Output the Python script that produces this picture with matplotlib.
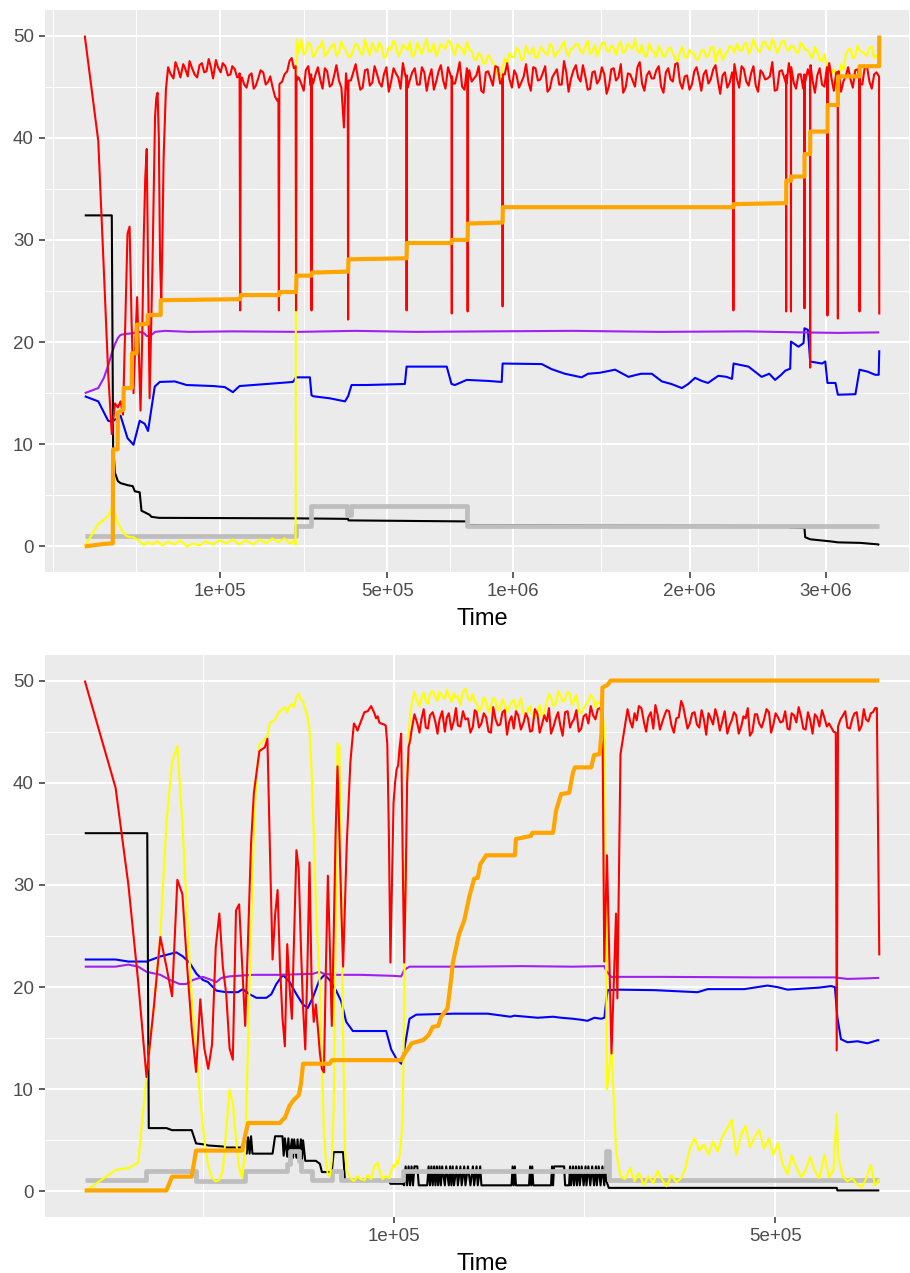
import numpy as np
import matplotlib
matplotlib.use("Agg")
import matplotlib.pyplot as plt
from matplotlib.ticker import FixedLocator

plt.rcParams['font.family'] = ['Liberation Sans', 'DejaVu Sans']

# ---------------- data: Time in thousands ----------------
# ---- top panel ----
top_grid_k = [38, 43, 48, 53, 58, 63, 69, 75, 81, 87, 94, 101, 108, 116, 123, 131, 139, 148, 156, 165,
              174, 184, 193, 203, 213, 224, 234, 245, 256, 267, 279, 291, 303, 315, 328, 340, 353, 367, 380, 394,
              408, 422, 437, 452, 467, 482, 497, 513, 529, 545, 562, 578, 595, 613, 630, 648, 666, 684, 702, 721,
              740, 759, 778, 798, 818, 838, 859, 879, 900, 921, 943, 964, 986, 1008, 1030, 1053, 1076, 1099, 1122, 1146,
              1170, 1194, 1218, 1243, 1267, 1292, 1318, 1343, 1369, 1395, 1421, 1448, 1475, 1502, 1529, 1556, 1584, 1612, 1640, 1669,
              1697, 1726, 1756, 1785, 1815, 1845, 1875, 1905, 1936, 1967, 1998, 2030, 2061, 2093, 2125, 2158, 2190, 2223, 2256, 2290,
              2323, 2357, 2391, 2426, 2460, 2495, 2530, 2565, 2601, 2637, 2673, 2709, 2746, 2783, 2820, 2857, 2894, 2932, 2970, 3009,
              3047, 3086, 3125, 3164, 3204, 3243, 3283, 3323, 3364, 3405, 3446]
top_mid_k = [40, 45, 50, 55, 60, 66, 72, 78, 84, 90, 97, 104, 112, 119, 127, 135, 143, 152, 160, 169,
             179, 188, 198, 208, 218, 229, 239, 250,
             262, 273, 285, 297, 309, 321, 334, 346, 360, 373, 387, 401, 415, 429, 444, 459, 474, 489, 505, 521,
             537, 553, 570, 586, 604, 621, 639, 657, 675, 693, 711, 730, 749, 768, 788, 808, 828, 848, 869, 889,
             910, 932, 953, 975, 997, 1019, 1041, 1064, 1087, 1110, 1134, 1158, 1182, 1206, 1230, 1255, 1279, 1305,
             1330, 1356, 1382, 1408, 1434, 1461, 1488, 1515, 1542, 1570, 1598, 1626, 1654, 1683, 1711, 1741, 1770,
             1800, 1830, 1860, 1890, 1920, 1951, 1982, 2014, 2045, 2077, 2109, 2141, 2174, 2206, 2239, 2273, 2306,
             2340, 2374, 2408, 2443, 2477, 2512, 2547, 2583, 2619, 2655, 2691, 2727, 2764, 2801, 2838, 2878, 2913,
             2951, 2989, 3028, 3066, 3105, 3144, 3184, 3223, 3263, 3303, 3343, 3384, 3425]

red_top_early_k = [0, 1, 2, 3, 4, 5, 6, 7, 8, 9, 10, 11, 12, 13, 14, 15, 16, 17, 18, 19, 20, 21, 22, 23,
                   25, 27, 28, 29, 30, 31, 32, 33, 34, 36]
red_top_early_v = [50, 39.7, 27, 17, 11, 14, 13.6, 14.2, 12.9, 22, 30.6, 31.3, 22, 15.0, 20, 24.4, 19, 13.3, 20, 30,
                   36, 38.9, 26, 14.5, 27, 42, 43.9, 44.4, 40, 28, 24, 30, 38, 44.7]
red_top_grid_v = [46.9, 45.8, 46.6, 47.2, 46.0, 46.8, 45.9, 47.3, 46.5, 46.9, 47.6, 46.4, 47.0, 46.2, 46.7, 46.0,
                  45.2, 46.1, 44.8, 45.9, 46.4, 45.5, 44.9, 43.6,
                  45.5, 46.5, 47.8, 46.0,
                  45.3, 46.6, 45.1, 46.2, 45.7, 46.8, 45.0, 46.1, 45.6, 41.0, 45.2, 46.4, 45.8, 44.9, 46.7, 45.4,
                  46.2, 45.0, 46.9, 45.5, 46.3, 44.8, 46.0, 45.7, 46.8, 45.2, 46.4, 45.9, 44.7, 46.5, 45.6, 46.9, 45.3,
                  46.3, 45.0, 46.8, 45.5, 46.1, 44.6, 46.4, 45.8, 47.0, 45.3, 46.2, 45.7, 46.6, 44.9, 46.0, 45.4,
                  46.9, 45.6, 46.3, 44.5, 45.9, 46.7, 45.2, 46.4, 45.8, 47.1, 45.5, 46.0, 44.8, 46.5, 45.7, 46.2,
                  45.1, 46.8, 45.9, 44.4, 46.3, 45.6, 46.9, 45.3, 46.1, 45.8, 46.6, 45.0, 46.4, 45.7, 47.2, 45.4,
                  46.0, 44.7, 46.5, 45.9, 46.2, 45.3, 46.7, 45.6, 46.1, 44.9, 46.4, 45.8, 47.0, 45.5, 46.3, 45.1,
                  46.6, 45.7, 46.0, 44.6, 46.5, 45.9, 47.3, 45.4, 46.2, 44.8, 46.7, 45.6, 46.1, 45.2, 46.9, 45.8,
                  46.4, 44.5, 46.0, 45.7, 46.6, 45.3, 46.8, 45.5, 46.2, 46.0]
red_top_mid_v = [46.3, 47.4, 45.9, 46.8, 47.5, 46.2, 47.1, 46.4, 47.7, 45.8, 46.9, 47.3, 46.1, 47.0, 45.9,
                 45.9, 44.9, 46.3, 45.1, 46.6, 45.2, 46.0, 44.0,
                 45.3, 46.2, 47.5, 46.8, 45.9,
                 44.6, 47.0, 45.3, 46.9, 44.8, 46.5, 45.2, 47.1, 44.9, 46.3,
                 45.6, 47.2, 44.7, 46.6, 45.1, 47.0, 45.4, 46.2, 44.5, 46.8,
                 45.9, 47.3, 44.9, 46.4, 45.2, 46.9, 44.6, 46.7, 45.5, 47.1,
                 44.8, 46.2, 45.3, 47.4, 44.7, 46.6, 45.8, 47.0, 44.4, 46.5,
                 45.1, 46.9, 45.6, 47.3, 44.9, 46.1, 45.4, 47.2, 44.6, 46.8,
                 45.7, 47.0, 44.8, 46.3, 45.2, 47.5, 44.5, 46.6, 45.9, 47.1,
                 44.7, 46.4, 45.3, 46.9, 44.3, 46.7, 45.6, 47.2, 44.9, 46.2,
                 45.0, 47.4, 44.6, 46.5, 45.8, 47.0, 44.4, 46.8, 45.5, 47.3,
                 44.8, 46.1, 45.2, 46.9, 44.6, 46.6, 45.7, 47.1, 44.3, 46.4,
                 45.4, 47.2, 44.9, 46.7, 45.1, 47.0, 44.5, 46.3, 45.8, 47.4,
                 44.7, 46.6, 45.3, 46.9, 44.8, 46.2, 45.6, 47.1, 44.4, 46.8,
                 45.0, 47.3, 44.6, 46.5, 45.5, 46.9, 44.9, 46.7, 45.2, 47.0,
                 44.8, 46.4]
red_top_dip_k = [131, 132, 133, 205, 206, 207, 243, 244, 245, 280, 281, 282, 378, 379, 381, 565, 566, 567,
                 735, 736, 737, 800, 801, 802, 953, 954, 955, 2298, 2299, 2300, 2687, 2688, 2689,
                 2724, 2725, 2726, 2829, 2830, 2831, 2874, 2875, 2876, 3013, 3014, 3015,
                 3098, 3099, 3100, 3279, 3280, 3281, 3447, 3449]
red_top_dip_v = [46.3, 23.1, 45.4, 43.8, 23.1, 45.2, 47.0, 23.1, 45.6, 46.2, 23.1, 45.8, 44.5, 22.2, 45.6,
                 45.9, 23.1, 46.1, 45.7, 22.8, 46.0, 46.3, 23.0, 45.5, 45.8, 23.5, 46.2, 46.0, 23.1, 45.6,
                 45.3, 23.0, 46.1, 45.8, 23.0, 45.0, 46.2, 23.3, 45.4, 45.9, 17.5, 46.3, 45.5, 22.6, 46.0,
                 46.4, 22.3, 45.7, 45.8, 23.0, 46.2, 46.0, 22.7]

yel_top_early_k = [0, 1, 2, 3, 4, 5, 6, 7, 9, 11, 13, 16, 19, 22, 25, 29, 33, 38, 44, 50, 57, 64, 72, 80, 90,
                   100, 110, 120, 130, 142, 155, 168, 180, 192, 205, 218, 230, 240, 243, 244, 246, 250]
yel_top_early_v = [0, 2.2, 2.6, 3.0, 3.7, 3.2, 2.3, 1.8, 1.1, 0.9, 0.9, 0.6, 0.15, 0.4, 0.2, 0.5, 0.1, 0.45,
                   0.2, 0.6, 0.0, 0.3, 0.1, 0.5, 0.2, 0.6, 0.3, 0.7, 0.2, 0.6, 0.2, 0.7, 0.3, 0.8, 0.4, 0.8,
                   0.3, 0.6, 0.2, 45.0, 49.6, 48.3]
yel_top_grid_v = [49.6, 48.4, 49.1, 48.2, 48.9, 48.0, 48.7, 49.2, 48.3, 48.8, 47.9, 48.6, 49.0, 48.1, 48.7,
                  49.3, 48.4, 48.9, 48.0, 48.6, 49.1, 48.3, 48.8, 49.4, 48.2, 48.7, 49.0, 48.4, 49.2, 48.5,
                  48.9, 49.5, 48.6,
                  49.2, 48.7, 49.4, 48.5, 47.6, 48.0, 47.4, 47.8,
                  47.0, 45.5, 47.8, 48.3,
                  47.9, 48.5, 47.7, 48.3, 48.8, 47.9, 48.6, 48.1, 48.9, 48.3, 49.0, 48.4, 48.7, 49.2, 48.5,
                  48.9, 48.2, 49.1, 48.6, 49.3, 48.4, 48.8, 49.0, 48.3, 49.2, 48.7, 48.5, 49.1, 48.0, 48.6,
                  47.9, 48.5, 48.1, 48.8, 47.7, 48.4, 48.0, 48.6,
                  48.2, 47.8, 48.6, 48.0, 48.9, 48.3, 47.6, 48.4, 48.8, 49.2,
                  48.5, 49.3, 48.7, 49.0, 48.4, 49.4, 48.6, 49.1, 48.8, 49.5, 48.5, 48.9, 48.3, 49.0,
                  48.6, 47.8, 48.4, 47.5, 47.0,
                  46.3, 46.0, 47.2,
                  48.1, 48.7, 47.9, 48.5, 48.2, 48.8, 47.8, 47.5]
yel_top_mid_v = [48.1, 49.3, 47.9, 48.8, 49.5, 48.2, 49.0, 48.0, 49.4, 48.5, 47.9, 49.2, 48.4, 49.6, 48.1,
                 48.7, 49.3, 47.8, 48.9, 49.5, 48.0, 49.1, 48.6, 47.9, 49.3, 48.2, 49.6, 48.5, 48.0, 49.2,
                 48.7, 49.4, 48.1,
                 48.9, 48.1, 48.6, 47.7, 48.3, 47.2, 48.1, 47.3,
                 46.2, 46.8, 47.3, 47.9,
                 48.8, 47.6, 49.0, 48.2, 47.8, 48.9, 48.3, 49.2, 47.9, 48.5, 49.4, 48.0, 48.8, 49.1, 48.2,
                 49.5, 48.4, 48.0, 49.3, 48.6, 49.0, 48.1, 49.4, 48.5, 48.9, 49.6, 48.3, 48.0, 49.2, 48.4,
                 49.0, 47.9, 48.7, 48.2, 47.5, 48.9, 47.8, 48.3,
                 47.6, 48.5, 47.9, 48.8, 47.4, 48.7, 48.1, 49.0, 48.3, 48.6,
                 49.1, 48.2, 49.6, 48.5, 49.3, 48.9, 49.7, 48.3, 49.4, 48.7, 49.0, 48.4, 49.3, 48.6,
                 48.0, 48.9, 47.6, 48.2, 46.9,
                 46.7, 45.9, 46.6,
                 48.6, 47.8, 49.0, 48.4, 48.0, 48.9, 48.1]

orange_top_k = [0, 2, 4.3, 4.4, 5.9, 6.0, 8.2, 8.3, 12.1, 12.2, 14.7, 14.8, 21.6, 21.7, 31.5, 31.6, 132, 133,
                206, 207, 244, 245, 281, 282, 379, 380, 566, 567, 736, 737, 801, 802, 954, 955, 2299, 2300,
                2688, 2689, 2725, 2726, 2830, 2831, 2875, 2876, 3014, 3015, 3099, 3100, 3280, 3281, 3448, 3449]
orange_top_v = [0, 0.25, 0.3, 9.5, 9.5, 13.1, 13.4, 15.5, 15.5, 18.9, 18.9, 21.7, 21.8, 22.65, 22.65, 24.1,
                24.2, 24.6, 24.6, 24.9, 24.9, 26.5, 26.5, 26.8, 26.9, 28.1, 28.2, 29.7, 29.7, 30.0, 30.0, 31.6,
                31.7, 33.2, 33.2, 33.5, 33.6, 35.8, 35.8, 36.2, 36.2, 38.4, 38.4, 40.6, 40.6, 43.2, 43.2, 46.0,
                46.0, 47.0, 47.0, 50.0]

blue_top_k = [0, 1, 3, 4, 5, 7, 10, 13, 16.5, 19.7, 21.9, 26.8, 30.8, 44.3, 56.6, 90, 107, 120, 131, 181,
              237, 244, 277, 281, 285, 328, 370, 379, 389, 434, 560, 566, 716, 735, 749, 797, 888, 950, 954, 1141,
              1191, 1260, 1349, 1384, 1450, 1537, 1615, 1690, 1757, 1820, 1880, 1948, 1990, 2035, 2080, 2122,
              2193, 2250, 2289, 2300, 2407, 2503, 2560, 2604, 2650, 2681, 2719, 2725, 2783, 2823, 2830, 2857,
              2875, 2970, 2996, 3014, 3079, 3099, 3245, 3280, 3350, 3414, 3444, 3449]
blue_top_v = [14.7, 14.2, 12.3, 12.2, 12.4, 12.8, 10.6, 9.95, 12.3, 12.0, 11.3, 15.65, 16.1, 16.15, 15.8, 15.7,
              15.6, 15.1, 15.7, 15.9, 16.1, 16.55, 16.55, 14.8, 14.7, 14.5, 14.2, 14.7, 15.8, 15.8, 15.9, 17.6,
              17.6, 15.9, 15.8, 16.3, 16.2, 16.1, 17.9, 17.85, 17.35, 16.9, 16.55, 16.9, 17.0, 17.3, 16.6, 16.9,
              16.9, 16.15, 15.9, 15.5, 15.9, 16.5, 16.2, 16.0, 16.7, 16.6, 16.4, 17.9, 17.6, 16.6, 16.9, 16.3,
              16.8, 17.2, 17.4, 20.05, 19.55, 19.9, 21.35, 21.2, 18.1, 17.9, 18.1, 16.0, 16.0, 14.85, 14.9, 17.3,
              17.1, 16.8, 16.8, 19.2]

purple_top_k = [0, 1, 2, 3, 4, 5, 6, 7, 9, 12, 16, 19, 21, 23, 27, 35, 60, 120, 250, 400, 600, 900, 1300,
                1800, 2400, 2800, 3100, 3449]
purple_top_v = [15.0, 15.5, 16.5, 17.7, 18.9, 19.8, 20.4, 20.7, 20.8, 20.85, 21.0, 20.9, 20.6, 20.55, 21.0,
                21.1, 21.0, 21.05, 21.0, 21.1, 21.0, 21.05, 21.1, 21.0, 21.05, 20.95, 20.9, 20.95]

black_top_k = [0, 4, 4.4, 5, 6, 7, 10, 12.6, 13.7, 16.5, 17.6, 23, 24.3, 30, 244, 379, 380, 797, 800, 2700,
               2720, 2830, 2836, 2876, 3036, 3102, 3286, 3440, 3449]
black_top_v = [32.4, 32.4, 9.8, 7.2, 6.4, 6.2, 6.0, 5.9, 5.4, 5.3, 3.5, 3.1, 2.9, 2.8, 2.75, 2.7, 2.55, 2.45,
               2.1, 2.0, 1.85, 1.8, 0.9, 0.7, 0.5, 0.4, 0.35, 0.2, 0.15]

gray_top_k = [0, 244, 280, 377, 386, 798, 3449]
gray_top_v = [1.0, 2.0, 4.0, 3.1, 4.0, 2.0, 2.0]

# ---- bottom panel ----
bot_grid_k = [112, 116, 119, 122, 125, 129, 132, 136, 139, 143, 146, 150, 154, 158, 161, 165, 169, 173, 177, 181,
              185, 189, 193, 197, 202, 206, 210, 215, 219, 224, 228, 233, 237, 242, 247, 251, 256, 261, 266, 271,
              276, 281, 286, 291, 296, 301, 306, 312, 317, 322, 328, 333, 339, 344, 350, 355, 361, 367, 373, 378,
              384, 390, 396, 402, 408, 414, 420, 426, 433, 439, 445, 452, 458, 464, 471, 477, 484, 491, 497, 504,
              511, 518, 524, 531, 538, 545, 552, 559, 566, 574, 581, 588, 595, 603, 610, 618, 625, 633, 640, 648, 655]
bot_mid_a_k = [114, 117.5, 120.5, 123.5, 127, 130.5, 134, 137.5, 141, 144.5, 148, 152, 156, 159.5, 163, 167,
               171, 175, 179, 183, 187, 191, 195, 199.5, 204, 208, 212.5, 217, 221.5, 226, 230.5, 235, 239.5,
               244.5, 249, 253.5, 258.5, 263.5, 268.5, 273.5]
bot_mid_b_k = [309, 314.5, 319.5, 325, 330.5, 336, 341.5, 347, 352.5, 358, 364, 370, 375.5, 381, 387, 393,
               399, 405, 411, 417, 423, 429.5, 436, 442, 448.5, 455, 461, 467.5, 474, 480.5, 487.5, 494, 500.5,
               507.5, 514.5, 521, 527.5, 534.5, 541.5, 548.5, 555.5, 562.5, 570, 577.5, 584.5, 591.5, 599,
               606.5, 614, 621.5, 629, 636.5, 644, 651.5]

red_bot_early_k = [0, 1, 2, 3, 4, 5, 6, 7, 8, 9, 10, 11, 12, 13, 14, 15, 16, 17, 18, 19, 20, 21, 22, 23, 24,
                   25, 26, 27, 28, 29, 30, 31, 32, 34, 35, 36, 37, 38, 39, 40, 41, 42, 43, 44, 45, 46, 47, 48,
                   49, 50, 51, 52, 53, 54, 55, 56, 57, 58, 59, 60, 61, 62, 63, 64, 65, 66, 67, 68, 69, 70, 71,
                   72, 73, 74, 75, 76, 77, 78, 80, 82, 84, 86, 88, 89, 90, 91, 92, 94, 95, 96, 97, 98, 99, 100,
                   101, 102, 103, 104, 105, 106, 107, 108, 109, 110, 111]
red_bot_early_v = [50, 39.5, 30, 20.5, 11.2, 18, 24.9, 22, 19.1, 30.5, 29.1, 22, 16, 11.7, 18.8, 14, 12.0,
                   14.4, 23.9, 27.2, 22, 19.3, 14, 12.9, 27.5, 28.1, 22, 16.2, 25, 34, 39, 41.1, 43.1, 43.45,
                   44.3, 33, 22.7, 27, 29.5, 22, 17, 14.2, 24.2, 20, 16.9, 25, 33.4, 31.6, 24, 18, 13.9, 22,
                   32.2, 20, 16.6, 18.3, 16, 13.5, 12, 11.65, 22, 30.9, 24, 16.2, 25, 35, 41.6, 35, 28, 22.0,
                   28, 34, 38, 42, 44, 45.8, 45.5, 45.1, 46.0, 46.9, 47.0, 47.5, 46.8, 46.3, 46.5, 45.9, 45.8,
                   45.7, 45.6, 43.8, 35, 22.4, 30, 38, 40.0, 41.3, 41.7, 43.5, 44.8, 33, 22.4, 30, 40, 43.5, 44.1]
red_bot_grid_v = [45.1, 45.8, 46.3, 45.4, 46.6, 45.9, 46.2, 45.0, 46.8, 46.1,
                  45.6, 47.0, 46.3, 45.5, 46.9, 45.8, 46.4, 44.9, 46.2, 45.7,
                  47.1, 46.0, 45.3, 46.6, 45.9, 46.3, 45.1, 46.7, 45.6, 46.0,
                  44.8, 46.4, 45.7, 46.9, 45.4, 46.2, 45.0, 46.5, 45.8, 46.6, 47.2,
                  47.4, 32.9, 13.5, 27.2, 42.8, 45.6,
                  46.0, 46.8, 47.5, 45.9, 46.4, 45.3, 46.7, 46.0, 47.1, 45.6,
                  46.3, 48.0, 46.5, 45.8, 46.9, 45.4, 46.2, 46.8, 45.7, 46.4,
                  45.9, 44.8, 46.1, 46.6, 45.5, 46.3, 44.6, 46.7, 45.8, 46.2,
                  46.9, 45.6, 46.4, 46.0, 45.3, 46.8, 45.9, 46.5, 45.2, 46.1,
                  46.7, 45.5, 46.3, 45.8, 45.0, 45.5, 46.6, 45.4, 46.3, 46.9,
                  45.6, 46.2, 46.8, 47.3]
red_bot_mid_a_v = [46.7, 44.9, 47.2, 45.3, 46.9, 44.8, 47.0, 46.4, 45.2, 47.3,
                   45.5, 46.2, 44.9, 47.1, 45.4, 46.8, 45.0, 47.4, 45.6, 46.9,
                   44.7, 46.5, 47.0, 45.2, 46.8, 45.0, 47.2, 44.9, 46.6, 47.3,
                   45.5, 46.9, 44.6, 47.0, 45.9, 47.1, 45.3, 46.7, 47.5, 46.2]
red_bot_mid_b_v = [47.2, 45.4, 46.1, 47.3, 45.0, 46.9, 47.6, 45.2, 46.6, 47.0,
                   44.9, 46.4, 47.5, 45.3, 46.8, 45.7, 47.1, 44.7, 46.3, 47.2,
                   45.1, 47.0, 45.6, 46.9, 44.8, 46.5, 47.3, 45.0, 46.7, 45.4,
                   47.2, 44.9, 46.8, 45.9, 47.0, 45.2, 46.6, 47.4, 45.3, 46.9,
                   44.8, 46.4, 47.1, 45.5, 45.4, 44.9, 46.2, 47.0, 45.3, 46.8,
                   45.1, 47.2, 46.0, 46.9]
red_bot_extra_k = [283, 297.5, 593, 658, 662]
red_bot_extra_v = [22.5, 18.9, 13.8, 47.3, 23.1]

yel_bot_early_k = [0, 1, 2, 3, 4, 5, 6, 7, 8, 9, 10, 11, 12, 13, 14, 15, 16, 17, 18, 19, 20, 21, 22, 23, 24,
                   25, 26, 27, 28, 29, 30, 31, 32, 33, 34, 35, 36, 37, 38, 39, 40, 41, 42, 43, 44, 45, 46, 47,
                   48, 49, 50, 51, 52, 53, 54, 55, 56, 57, 58, 59, 60, 61, 62, 63, 64, 65, 66, 67, 68, 69, 70,
                   71, 72, 74, 76, 78, 80, 82, 84, 86, 88, 90, 91, 93, 95, 97, 99, 100, 101, 102, 103, 104, 105,
                   106, 107, 108, 109, 110, 111]
yel_bot_early_v = [0, 2.1, 2.3, 2.8, 11.2, 18, 25.1, 36, 42, 43.6, 36, 27, 19, 14, 9, 5, 2.5, 1.3, 1.0, 1.1,
                   2, 6, 9.95, 8.7, 5, 2.3, 1.3, 4, 15, 25, 35, 41, 43.8, 44, 44.3, 44.6, 45.9, 46, 46.2, 46.7,
                   47, 47.2, 47.4, 46.9, 47.5, 47.7, 47.4, 48.4, 48.7, 48.2, 47.9, 47.2, 46.5, 45.2, 41, 35,
                   28.1, 24, 20, 12, 6, 3, 1.6, 1.5, 3, 8, 25, 43.8, 43.5, 30, 15, 4, 2.0, 1.3, 1.0, 1.5, 1.2,
                   1.1, 1.6, 1.2, 2.5, 2.8, 2.1, 1.2, 1.5, 1.3, 2.2, 2.6, 2.4, 3.0, 2.7, 3.6, 5, 7.3, 18, 32,
                   41, 44.5, 46.5]
yel_bot_grid_v = [47.6, 47.9, 48.3, 48.0, 48.7, 48.4, 48.9, 48.2, 48.6, 48.8,
                  48.5, 48.9, 48.3, 48.7,
                  47.8, 47.3, 47.9, 47.5, 48.0, 47.2, 47.7, 47.4, 48.1, 47.5,
                  46.8, 47.2, 46.6, 47.0, 46.5,
                  48.0, 48.4, 47.8, 48.6, 48.2, 48.7, 48.1,
                  47.0, 47.3, 48.0, 48.3, 47.9,
                  47.6, 10.0, 14.0, 4.0, 1.5,
                  1.2, 2.3, 1.0, 1.8, 0.6, 1.5, 0.8, 2.0, 1.1, 0.5,
                  1.6, 0.9, 1.3, 2.2, 4.2, 5.2, 4.0, 4.6, 3.6, 4.9,
                  3.9, 5.3, 6.2, 7.0, 3.6, 5.6, 6.4, 4.3, 5.4, 6.0,
                  4.2, 5.2, 3.6, 4.7, 2.6, 1.7, 3.5, 2.4, 1.4, 2.1,
                  3.4, 2.0, 1.3, 3.6, 1.4, 2.1, 3.6, 1.4, 1.0, 1.3,
                  0.7, 0.4, 1.2, 2.6, 0.6]
yel_bot_mid_a_v = [48.9, 47.5, 48.8, 47.7, 49.0, 48.0, 48.5, 49.1, 47.9, 48.3,
                   47.6, 49.2, 48.0, 47.9, 47.0, 48.4, 46.9, 48.3, 47.1, 48.2,
                   46.9, 47.9, 47.2, 48.3, 46.4, 47.5, 46.3, 47.6, 46.9, 48.7,
                   47.5, 49.0, 47.9, 48.9, 47.6, 48.6, 46.8, 47.7, 48.6, 47.4]
yel_bot_extra_k = [283.5, 593, 662]
yel_bot_extra_v = [44.0, 7.6, 1.2]

orange_bot_k = [0, 7, 8, 12, 13, 26, 27, 28, 40, 41, 42, 44, 46, 48, 49, 50, 63, 64, 105, 107, 109, 112, 120,
                124, 127, 131, 133, 138, 141, 142, 145, 147, 151, 155, 159, 162, 164, 169, 194, 195, 209, 210,
                230, 233, 238, 246, 250, 252, 269, 272, 278, 280, 281, 287, 290, 662]
orange_bot_v = [0.1, 0.1, 1.45, 1.45, 4.0, 4.0, 5.5, 6.7, 6.7, 7.0, 7.2, 8.4, 9.0, 9.4, 10.5, 12.5, 12.5,
                12.85, 12.85, 13.4, 13.8, 14.5, 14.8, 15.3, 16.1, 16.2, 17.05, 17.9, 21.0, 22.3, 24.1, 25.2,
                26.5, 28.8, 30.6, 30.7, 32.0, 32.9, 32.9, 34.5, 34.8, 35.1, 35.1, 37.3, 38.9, 39.0, 41.0, 41.5,
                41.5, 42.7, 42.8, 44.8, 49.3, 49.6, 50.0, 50.0]

blue_bot_k = [0, 1, 2, 4, 6, 8.8, 10.1, 11.5, 13.1, 14.65, 15.9, 18.2, 21, 24.6, 26.2, 28.5, 30.9, 34.6, 36.5,
              38.5, 41.2, 44, 47, 49.9, 52.2, 54.6, 57.8, 60.3, 62.9, 66.3, 69, 71.7, 75.4, 81.1, 91.1, 95.3,
              98.5, 101.8, 105.1, 107.2, 110.6, 115.2, 143.4, 170.2, 190, 193.7, 215.1, 230, 238, 250, 258.6,
              265, 272.4, 279.6, 283.2, 285.2, 286.8, 297.8, 340.3, 393.8, 406.9, 456.2, 488.8, 503.1, 517.9,
              565.9, 584.1, 590.1, 594, 599.7, 610.1, 626.1, 642.3, 659.1, 662]
blue_bot_v = [22.7, 22.7, 22.5, 22.5, 23.0, 23.4, 23.0, 22.4, 21.3, 20.7, 20.5, 19.65, 19.5, 19.5, 19.8, 19.3,
              18.95, 18.95, 19.3, 20.3, 21.2, 20.5, 19.3, 18.3, 17.95, 19.0, 20.7, 21.2, 20.7, 19.65, 18.6, 16.6,
              15.7, 15.7, 15.7, 15.7, 13.9, 13.0, 12.5, 14.0, 16.9, 17.3, 17.4, 17.4, 17.1, 17.2, 17.0, 17.1,
              17.0, 16.9, 16.8, 16.7, 17.0, 16.9, 17.0, 18.7, 19.7, 19.75, 19.7, 19.5, 19.8, 19.8, 20.15, 20.0,
              19.75, 19.95, 20.1, 20.0, 17.05, 14.9, 14.6, 14.7, 14.5, 14.8, 14.8]

purple_bot_k = [0, 1, 2, 3, 4, 6, 7.6, 9.45, 10.8, 12.3, 14.65, 16.8, 18.2, 19.6, 22, 29.7, 39.8, 54.6, 57.8,
                60, 65, 80, 100, 105, 107.2, 110.6, 150, 200, 250, 283, 285.2, 290.6, 350, 470, 590, 610, 640, 662]
purple_bot_v = [22.0, 22.0, 22.2, 22.0, 21.5, 21.2, 20.7, 20.3, 20.3, 20.7, 21.0, 20.7, 20.5, 20.9, 21.05,
                21.2, 21.2, 21.3, 21.5, 21.3, 21.2, 21.2, 21.1, 21.05, 21.7, 22.0, 22.0, 22.05, 22.0, 22.05,
                21.6, 21.0, 21.0, 20.95, 20.95, 20.8, 20.85, 20.9]

black_bot_k = [0, 4.1, 4.3, 7, 8, 12, 13, 15, 16, 20, 21, 26, 27, 27.5, 28, 28.5, 29, 29.5, 37, 38, 41, 41.5,
               42, 43, 43.5, 44, 45, 45.5, 46, 47, 47.5, 48, 49, 49.5, 50, 51, 56, 58, 59, 64, 65, 70, 71, 97,
               98, 106, 107, 108, 109, 110, 111, 112, 113, 114, 116, 117, 123, 124, 125, 126, 127, 128, 129,
               130, 131, 132, 133, 134, 136, 137, 139, 140, 141, 142, 143, 145, 146, 148, 149, 151, 152, 154,
               156, 158, 159, 161, 162, 164, 165, 191, 192, 193, 194, 195, 207, 208, 209, 210, 211, 228, 229,
               230, 231, 241, 242, 246, 247, 248, 250, 251, 253, 254, 256, 257, 259, 261, 263, 264, 266, 268,
               270, 272, 274, 275, 277, 279, 281, 283, 284, 285, 288, 593, 594, 662]
black_bot_v = [35.06, 35.06, 6.2, 6.2, 6.0, 6.0, 4.7, 4.6, 4.5, 4.4, 4.3, 4.3, 5.4, 3.7, 5.3, 3.7, 5.4, 3.7,
               3.7, 5.4, 5.4, 3.5, 5.2, 3.4, 5.2, 3.3, 5.1, 3.3, 5.1, 3.3, 5.1, 3.2, 5.1, 3.1, 5.0, 3.0, 3.0,
               2.7, 1.9, 1.9, 3.85, 3.85, 1.1, 1.1, 0.75, 0.75, 0.6, 2.45, 0.6, 2.45, 0.6, 2.45, 0.6, 2.45,
               2.45, 0.6, 0.6, 2.45, 0.6, 2.45, 0.6, 2.45, 0.6, 2.45, 0.6, 2.45, 0.6, 2.45, 0.6, 2.45, 0.6,
               2.45, 0.6, 2.45, 0.6, 2.45, 0.6, 2.45, 0.6, 2.45, 0.6, 2.45, 0.6, 2.45, 0.6, 2.45, 0.6, 2.45,
               0.6, 0.6, 2.45, 0.6, 2.45, 0.6, 0.6, 2.45, 0.6, 2.45, 0.6, 0.6, 2.45, 0.6, 2.45, 2.45, 0.6,
               0.6, 2.45, 0.6, 2.45, 0.6, 2.45, 0.6, 2.45, 0.6, 2.45, 0.6, 2.45, 0.6, 2.45, 0.6, 2.45, 0.6,
               2.45, 0.6, 2.45, 0.6, 2.45, 0.6, 2.45, 1.1, 0.35, 0.35, 0.1, 0.1]

gray_bot_k = [0, 4, 13, 27, 43, 44, 48, 49, 54, 64, 69, 106, 285, 288, 662]
gray_bot_v = [1.08, 2.05, 1.05, 2.05, 2.7, 4.0, 3.0, 2.05, 1.08, 2.05, 1.08, 2.05, 4.0, 1.08, 1.08]

top_breaks = [1e5, 5e5, 1e6, 2e6, 3e6]
top_labels = ["1e+05", "5e+05", "1e+06", "2e+06", "3e+06"]
bot_breaks = [1e5, 5e5]
bot_labels = ["1e+05", "5e+05"]
y_breaks = [0, 10, 20, 30, 40, 50]
y_minor = [5, 15, 25, 35, 45]


def fwd(x):
    x = np.asarray(x, dtype=float)
    return np.sign(x) * np.sqrt(np.abs(x))


def inv(y):
    y = np.asarray(y, dtype=float)
    return np.sign(y) * y ** 2


def merged(*parts):
    t = np.concatenate([np.asarray(p[0], float) for p in parts])
    v = np.concatenate([np.asarray(p[1], float) for p in parts])
    o = np.argsort(t, kind="stable")
    return t[o] * 1000.0, v[o]


def series(k, v):
    return np.asarray(k, float) * 1000.0, np.asarray(v, float)


def setup(ax, tmax, breaks, labels):
    ax.set_facecolor("#EBEBEB")
    for sp in ax.spines.values():
        sp.set_visible(False)
    ax.set_xscale("function", functions=(fwd, inv))
    smax = np.sqrt(tmax)
    ax.set_xlim(float(inv(-0.05 * smax)), float(inv(1.05 * smax)))
    ax.set_ylim(-2.5, 52.5)
    sb = np.sqrt(np.asarray(breaks, float))
    bd = sb[1] - sb[0]
    ext = np.concatenate([[sb[0] - bd], sb, [sb[-1] + bd]])
    mins = np.concatenate([ext[:-1], (ext[:-1] + ext[1:]) / 2])
    mins = [m for m in mins if not np.any(np.isclose(m, sb))]
    ax.xaxis.set_major_locator(FixedLocator(breaks))
    ax.xaxis.set_minor_locator(FixedLocator(list(inv(mins))))
    ax.set_xticklabels(labels)
    ax.yaxis.set_major_locator(FixedLocator(y_breaks))
    ax.yaxis.set_minor_locator(FixedLocator(y_minor))
    ax.set_yticklabels([str(b) for b in y_breaks])
    ax.grid(True, which="major", color="white", linewidth=1.5)
    ax.grid(True, which="minor", color="white", linewidth=0.75)
    ax.set_axisbelow(True)
    ax.tick_params(which="minor", length=0)
    ax.tick_params(which="major", length=4, width=1.1, color="#333333",
                   labelcolor="#4D4D4D", labelsize=13.5, pad=4)
    ax.set_xlabel("Time", fontsize=17, color="black", labelpad=6)


W, H = 910, 1273
fig = plt.figure(figsize=(W / 100, H / 100), dpi=100)
fig.patch.set_facecolor("white")
ax1 = fig.add_axes([45 / W, (H - 572) / H, 874 / W, 562 / H])
ax2 = fig.add_axes([45 / W, (H - 1217) / H, 874 / W, 562 / H])

kw = dict(solid_capstyle="butt", solid_joinstyle="round")
THIN = 1.5

# top panel
setup(ax1, 3449e3, top_breaks, top_labels)
ax1.plot(*series(blue_top_k, blue_top_v), color="#0000FF", lw=THIN, zorder=3, **kw)
ax1.plot(*series(purple_top_k, purple_top_v), color="#A020F0", lw=THIN, zorder=4, **kw)
ax1.plot(*series(black_top_k, black_top_v), color="black", lw=THIN, zorder=5, **kw)
ax1.plot(*series(gray_top_k, gray_top_v), color="#BEBEBE", lw=3.4, drawstyle="steps-post", zorder=6, **kw)
ax1.plot(*merged((yel_top_early_k, yel_top_early_v), (top_grid_k[28:], yel_top_grid_v),
                 (top_mid_k[28:], yel_top_mid_v)),
         color="#FFFF00", lw=THIN, zorder=7, **kw)
ax1.plot(*merged((red_top_early_k, red_top_early_v), (top_grid_k, red_top_grid_v),
                 (top_mid_k, red_top_mid_v), (red_top_dip_k, red_top_dip_v)),
         color="#FF0000", lw=THIN, zorder=8, **kw)
ax1.plot(*series(orange_top_k, orange_top_v), color="#FFA500", lw=3.0, zorder=9, **kw)

# bottom panel
setup(ax2, 662e3, bot_breaks, bot_labels)
ax2.plot(*series(blue_bot_k, blue_bot_v), color="#0000FF", lw=THIN, zorder=3, **kw)
ax2.plot(*series(purple_bot_k, purple_bot_v), color="#A020F0", lw=THIN, zorder=4, **kw)
ax2.plot(*series(black_bot_k, black_bot_v), color="black", lw=THIN, zorder=5, **kw)
ax2.plot(*series(gray_bot_k, gray_bot_v), color="#BEBEBE", lw=3.4, drawstyle="steps-post", zorder=6, **kw)
ax2.plot(*merged((yel_bot_early_k, yel_bot_early_v), (bot_grid_k, yel_bot_grid_v),
                 (bot_mid_a_k, yel_bot_mid_a_v), (yel_bot_extra_k, yel_bot_extra_v)),
         color="#FFFF00", lw=THIN, zorder=7, **kw)
ax2.plot(*merged((red_bot_early_k, red_bot_early_v), (bot_grid_k, red_bot_grid_v),
                 (bot_mid_a_k, red_bot_mid_a_v), (bot_mid_b_k, red_bot_mid_b_v),
                 (red_bot_extra_k, red_bot_extra_v)),
         color="#FF0000", lw=THIN, zorder=8, **kw)
ax2.plot(*series(orange_bot_k, orange_bot_v), color="#FFA500", lw=3.0, zorder=9, **kw)

fig.savefig("out.png", dpi=100, facecolor="white")
